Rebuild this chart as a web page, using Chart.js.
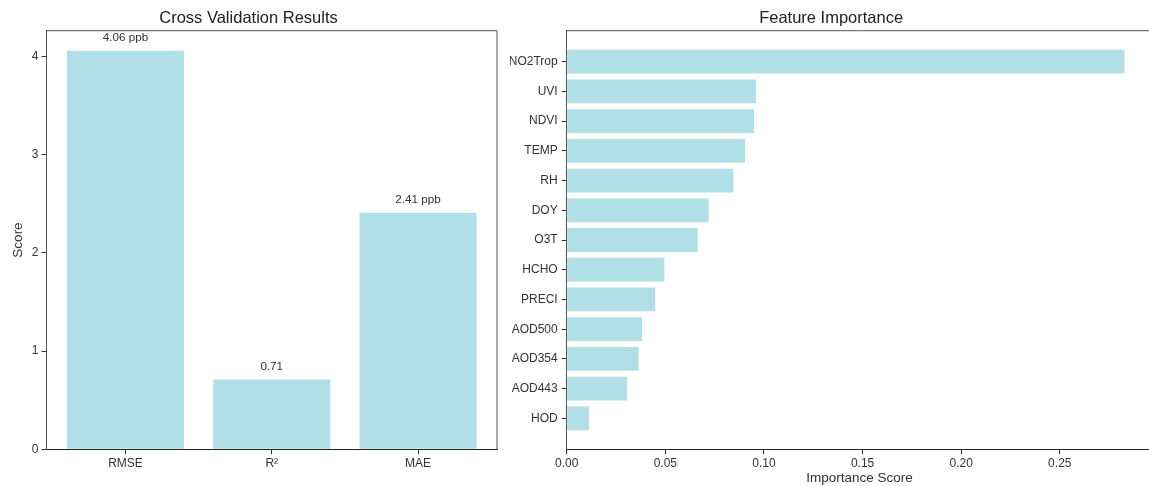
<!DOCTYPE html>
<html>
<head>
<meta charset="utf-8">
<script src="https://cdn.jsdelivr.net/npm/chart.js@4.4.1/dist/chart.umd.min.js"></script>
<style>
  html, body { margin: 0; padding: 0; background: #fff; overflow: hidden; width: 1149px; height: 486px; }
  canvas { position: absolute; top: 0; }
  #cvChart { left: 0; }
  #fiChart { left: 510px; }
</style>
</head>
<body>
<canvas id="cvChart" width="544" height="486"></canvas>
<canvas id="fiChart" width="700" height="486"></canvas>
<script>
// Cross-validation metrics
const metricNames = ['RMSE', 'R²', 'MAE'];
const metricValues = [4.06, 0.71, 2.41];
const metricUnits = [' ppb', '', ' ppb'];
const scoreTicks = [0, 1, 2, 3, 4];

// Feature importance, listed top to bottom
const featureNames = ['NO2Trop', 'UVI', 'NDVI', 'TEMP', 'RH', 'DOY', 'O3T', 'HCHO', 'PRECI', 'AOD500', 'AOD354', 'AOD443', 'HOD'];
const featureImportance = [0.2828, 0.0960, 0.0950, 0.0904, 0.0845, 0.0720, 0.0664, 0.0495, 0.0449, 0.0382, 0.0365, 0.0306, 0.0113];
const importanceTicks = [0, 0.05, 0.10, 0.15, 0.20, 0.25];

const FONT = "'Liberation Sans', Arial, Helvetica, sans-serif";
const BAR_COLOR = '#B0E0E6';
const TEXT = '#333';
Chart.defaults.font.family = FONT;
Chart.defaults.color = TEXT;

// Top and right edges of the plot frame
const framePlugin = {
  id: 'frame',
  afterDraw(chart) {
    const { ctx, chartArea: a } = chart;
    ctx.save();
    ctx.strokeStyle = '#555';
    ctx.lineWidth = 1;
    ctx.beginPath();
    ctx.moveTo(a.left, a.top);
    ctx.lineTo(a.right, a.top);
    ctx.lineTo(a.right, a.bottom);
    ctx.stroke();
    ctx.restore();
  }
};

// Value annotations above the metric bars
const valueLabels = {
  id: 'valueLabels',
  afterDatasetsDraw(chart) {
    const { ctx } = chart;
    const meta = chart.getDatasetMeta(0);
    ctx.save();
    ctx.font = '11.7px ' + FONT;
    ctx.fillStyle = TEXT;
    ctx.textAlign = 'center';
    ctx.textBaseline = 'alphabetic';
    meta.data.forEach((bar, i) => {
      ctx.fillText(metricValues[i].toFixed(2) + metricUnits[i], bar.x, bar.y - 10);
    });
    ctx.restore();
  }
};

const axisGrid = { drawOnChartArea: false, tickLength: 5, color: '#333', offset: false };

new Chart(document.getElementById('cvChart'), {
  type: 'bar',
  data: {
    datasets: [{
      data: metricValues.map((v, i) => ({ x: i, y: v })),
      backgroundColor: BAR_COLOR,
      barPercentage: 0.8,
      categoryPercentage: 1
    }]
  },
  options: {
    responsive: false,
    animation: false,
    devicePixelRatio: 1,
    layout: { padding: { left: 0, right: 47, top: 0, bottom: 0 } },
    plugins: {
      legend: { display: false },
      tooltip: { enabled: false },
      title: {
        display: true,
        text: 'Cross Validation Results',
        color: '#222',
        font: { size: 16.5, weight: 'normal' },
        padding: { top: 8.5, bottom: 2.4 }
      }
    },
    scales: {
      x: {
        type: 'linear', min: -0.54, max: 2.54, bounds: 'data', offset: false,
        afterBuildTicks: s => { s.ticks = metricNames.map((_, i) => ({ value: i })); },
        afterFit: s => { s.height = 36.7; },
        ticks: { callback: v => metricNames[v], font: { size: 12 }, padding: 2, maxRotation: 0, autoSkip: false },
        grid: axisGrid,
        border: { color: '#222' }
      },
      y: {
        type: 'linear', min: 0, max: 4.263, bounds: 'data', offset: false,
        afterBuildTicks: s => { s.ticks = scoreTicks.map(v => ({ value: v })); },
        afterFit: s => { s.width = 46.5; },
        ticks: { font: { size: 12 }, padding: 3 },
        grid: axisGrid,
        border: { color: '#555' },
        title: { display: true, text: 'Score', font: { size: 13.5 }, padding: { top: 10.2, bottom: 0 } }
      }
    }
  },
  plugins: [framePlugin, valueLabels]
});

new Chart(document.getElementById('fiChart'), {
  type: 'bar',
  data: {
    datasets: [{
      data: featureImportance.map((v, i) => ({ x: v, y: i })),
      backgroundColor: BAR_COLOR,
      barPercentage: 0.8,
      categoryPercentage: 1
    }]
  },
  options: {
    indexAxis: 'y',
    responsive: false,
    animation: false,
    devicePixelRatio: 1,
    layout: { padding: { left: 0, right: 57.7, top: 0, bottom: 0 } },
    plugins: {
      legend: { display: false },
      tooltip: { enabled: false },
      title: {
        display: true,
        text: 'Feature Importance',
        color: '#222',
        font: { size: 16.5, weight: 'normal' },
        padding: { top: 8.5, bottom: 2.4 }
      }
    },
    scales: {
      x: {
        type: 'linear', min: 0, max: 0.2969, bounds: 'data', offset: false,
        afterBuildTicks: s => { s.ticks = importanceTicks.map(v => ({ value: v })); },
        afterFit: s => { s.height = 36.7; },
        ticks: { callback: v => v.toFixed(2), font: { size: 12 }, padding: 2, maxRotation: 0, autoSkip: false },
        grid: axisGrid,
        border: { color: '#222' },
        title: { display: true, text: 'Importance Score', font: { size: 13.5 }, padding: { top: 0, bottom: 0 } }
      },
      y: {
        type: 'linear', min: -1.04, max: 13.04, reverse: true, bounds: 'data', offset: false,
        afterBuildTicks: s => { s.ticks = featureNames.map((_, i) => ({ value: i })); },
        afterFit: s => { s.width = 56.7; },
        ticks: { callback: v => featureNames[v], font: { size: 12 }, padding: 4, autoSkip: false },
        grid: axisGrid,
        border: { color: '#555' }
      }
    }
  },
  plugins: [framePlugin]
});
</script>
</body>
</html>
